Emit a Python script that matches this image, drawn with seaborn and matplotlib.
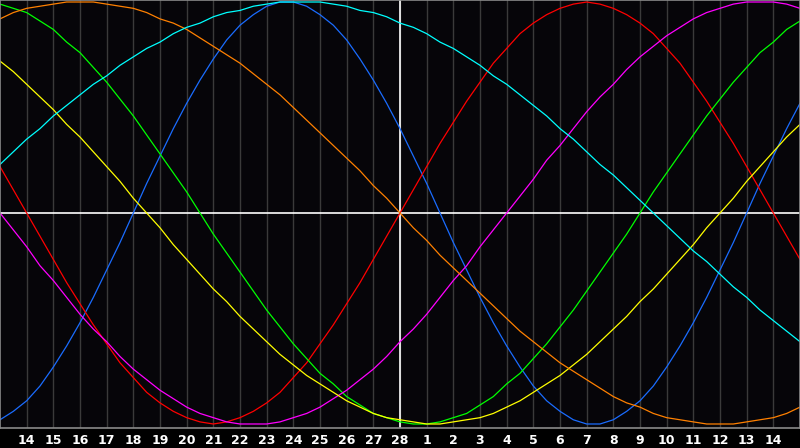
import numpy as np
import pandas as pd
import seaborn as sns
import matplotlib
matplotlib.use("Agg")
import matplotlib.pyplot as plt

# half-day steps across the chart (0..30) and the date labels at days 1..29
days = np.arange(0, 30.5, 0.5)
tick_days = list(range(1, 30))
tick_labels = [str(d) for d in range(14, 29)] + [str(d) for d in range(1, 15)]

# rhythm values, every half day
blue = [-0.98, -0.94, -0.89, -0.82, -0.73, -0.63, -0.52, -0.40, -0.27, -0.14, 0.00,
        0.14, 0.27, 0.40, 0.52, 0.63, 0.73, 0.82, 0.89, 0.94, 0.98,
        1.00, 1.00, 0.98, 0.94, 0.89, 0.82, 0.73, 0.63, 0.52, 0.40,
        0.27, 0.14, 0.00, -0.14, -0.27, -0.40, -0.52, -0.63, -0.73, -0.82,
        -0.89, -0.94, -0.98, -1.00, -1.00, -0.98, -0.94, -0.89, -0.82, -0.73,
        -0.63, -0.52, -0.40, -0.27, -0.14, 0.00, 0.14, 0.27, 0.40, 0.52]
red = [0.22, 0.11, 0.00, -0.11, -0.22, -0.33, -0.43, -0.53, -0.62, -0.71, -0.78,
       -0.85, -0.90, -0.94, -0.97, -0.99, -1.00, -0.99, -0.97, -0.94, -0.90,
       -0.85, -0.78, -0.71, -0.62, -0.53, -0.43, -0.33, -0.22, -0.11, 0.00,
       0.11, 0.22, 0.33, 0.43, 0.53, 0.62, 0.71, 0.78, 0.85, 0.90,
       0.94, 0.97, 0.99, 1.00, 0.99, 0.97, 0.94, 0.90, 0.85, 0.78,
       0.71, 0.62, 0.53, 0.43, 0.33, 0.22, 0.11, 0.00, -0.11, -0.22]
green = [0.99, 0.97, 0.95, 0.91, 0.87, 0.81, 0.76, 0.69, 0.62, 0.54, 0.46,
         0.37, 0.28, 0.19, 0.10, 0.00, -0.10, -0.19, -0.28, -0.37, -0.46,
         -0.54, -0.62, -0.69, -0.76, -0.81, -0.87, -0.91, -0.95, -0.97, -0.99,
         -1.00, -1.00, -0.99, -0.97, -0.95, -0.91, -0.87, -0.81, -0.76, -0.69,
         -0.62, -0.54, -0.46, -0.37, -0.28, -0.19, -0.10, 0.00, 0.10, 0.19,
         0.28, 0.37, 0.46, 0.54, 0.62, 0.69, 0.76, 0.81, 0.87, 0.91]
magenta = [0.00, -0.08, -0.16, -0.25, -0.32, -0.40, -0.48, -0.55, -0.61, -0.68, -0.74,
           -0.79, -0.84, -0.88, -0.92, -0.95, -0.97, -0.99, -1.00, -1.00, -1.00,
           -0.99, -0.97, -0.95, -0.92, -0.88, -0.84, -0.79, -0.74, -0.68, -0.61,
           -0.55, -0.48, -0.40, -0.32, -0.25, -0.16, -0.08, 0.00, 0.08, 0.16,
           0.25, 0.32, 0.40, 0.48, 0.55, 0.61, 0.68, 0.74, 0.79, 0.84,
           0.88, 0.92, 0.95, 0.97, 0.99, 1.00, 1.00, 1.00, 0.99, 0.97]
yellow = [0.72, 0.67, 0.61, 0.55, 0.49, 0.42, 0.36, 0.29, 0.22, 0.15, 0.07,
          0.00, -0.07, -0.15, -0.22, -0.29, -0.36, -0.42, -0.49, -0.55, -0.61,
          -0.67, -0.72, -0.77, -0.81, -0.85, -0.89, -0.92, -0.95, -0.97, -0.98,
          -0.99, -1.00, -1.00, -0.99, -0.98, -0.97, -0.95, -0.92, -0.89, -0.85,
          -0.81, -0.77, -0.72, -0.67, -0.61, -0.55, -0.49, -0.42, -0.36, -0.29,
          -0.22, -0.15, -0.07, 0.00, 0.07, 0.15, 0.22, 0.29, 0.36, 0.42]
orange = [0.92, 0.95, 0.97, 0.98, 0.99, 1.00, 1.00, 1.00, 0.99, 0.98, 0.97,
          0.95, 0.92, 0.90, 0.87, 0.83, 0.79, 0.75, 0.71, 0.66, 0.61,
          0.56, 0.50, 0.44, 0.38, 0.32, 0.26, 0.20, 0.13, 0.07, 0.00,
          -0.07, -0.13, -0.20, -0.26, -0.32, -0.38, -0.44, -0.50, -0.56, -0.61,
          -0.66, -0.71, -0.75, -0.79, -0.83, -0.87, -0.90, -0.92, -0.95, -0.97,
          -0.98, -0.99, -1.00, -1.00, -1.00, -0.99, -0.98, -0.97, -0.95, -0.92]
cyan = [0.23, 0.29, 0.35, 0.40, 0.46, 0.51, 0.56, 0.61, 0.65, 0.70, 0.74,
        0.78, 0.81, 0.85, 0.88, 0.90, 0.93, 0.95, 0.96, 0.98, 0.99,
        1.00, 1.00, 1.00, 1.00, 0.99, 0.98, 0.96, 0.95, 0.93, 0.90,
        0.88, 0.85, 0.81, 0.78, 0.74, 0.70, 0.65, 0.61, 0.56, 0.51,
        0.46, 0.40, 0.35, 0.29, 0.23, 0.18, 0.12, 0.06, 0.00, -0.06,
        -0.12, -0.18, -0.23, -0.29, -0.35, -0.40, -0.46, -0.51, -0.56, -0.61]

series = {'blue': blue, 'red': red, 'green': green, 'magenta': magenta,
          'yellow': yellow, 'orange': orange, 'cyan': cyan}
colors = {'blue': '#1a6cff', 'red': '#ff0000', 'green': '#00ff00', 'magenta': '#ff00ff',
          'yellow': '#ffff00', 'orange': '#ff8000', 'cyan': '#00ffff'}

df = pd.concat([pd.DataFrame({'day': days, 'value': v, 'rhythm': k}) for k, v in series.items()])

sns.set_style('dark')
plt.rcParams['font.family'] = ['DejaVu Sans']

fig = plt.figure(figsize=(8, 4.48), dpi=100, facecolor='#000000')
ax = fig.add_axes([0, 1 - 428 / 448, 1, 428 / 448])
ax.set_facecolor('#060509')

# day grid
for d in tick_days:
    ax.axvline(d, color='#3a3a3a', lw=1.0, zorder=0)
ax.axhline(0, color='white', lw=1.2, zorder=1)
ax.axvline(15, color='white', lw=1.2, zorder=1)

sns.lineplot(data=df, x='day', y='value', hue='rhythm', palette=colors,
             hue_order=list(series.keys()), lw=0.9, legend=False, ax=ax, zorder=2)

ax.set_xlim(0, 30)
ax.set_ylim(-1.019, 1.0095)
ax.set_xticks(tick_days)
ax.set_xticklabels(tick_labels, color='white', fontsize=9, fontweight='bold')
ax.set_yticks([])
ax.tick_params(axis='x', length=0, pad=4)
ax.set_xlabel('')
ax.set_ylabel('')
ax.grid(False)
for s in ax.spines.values():
    s.set_visible(True)
    s.set_color('#8a8a8a')
    s.set_linewidth(1.2)

fig.savefig('out.png', dpi=100, facecolor=fig.get_facecolor())
